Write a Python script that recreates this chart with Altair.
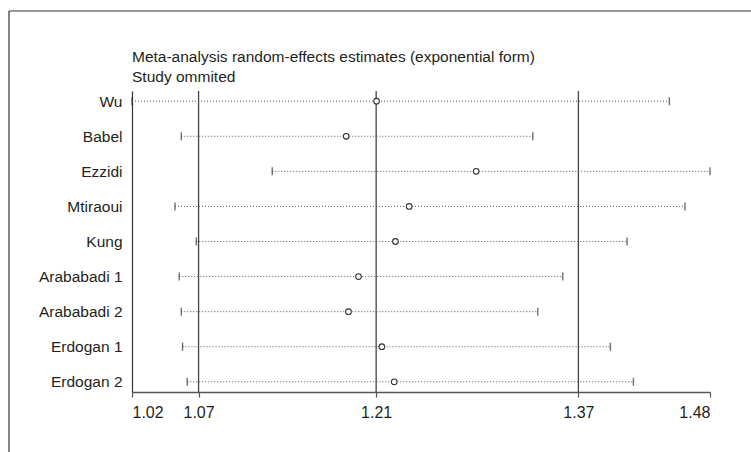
import altair as alt
import pandas as pd

studies = ["Wu", "Babel", "Ezzidi", "Mtiraoui", "Kung", "Arababadi 1",
           "Arababadi 2", "Erdogan 1", "Erdogan 2"]
estimate = [1.2145, 1.1906, 1.2929, 1.2402, 1.2294, 1.2003, 1.1924, 1.2187, 1.2284]
lower = [1.0220, 1.0608, 1.1324, 1.0558, 1.0726, 1.0592, 1.0608, 1.0618, 1.0655]
upper = [1.4450, 1.3375, 1.4770, 1.4573, 1.4117, 1.3611, 1.3414, 1.3986, 1.4167]
ref_lines = [1.0744, 1.2142, 1.3734]
axis_ticks = [1.0220, 1.0744, 1.2142, 1.3734, 1.4770]
x_domain = [1.0220, 1.4770]
title_lines = ["Meta-analysis random-effects estimates (exponential form)", "Study ommited"]

FONT = "Liberation Sans Narrow, Liberation Sans, Arial, sans-serif"
TXT = "#231f20"

df = pd.DataFrame({"study": studies, "est": estimate, "lo": lower, "hi": upper})
ends = pd.DataFrame({"study": studies * 2, "v": lower + upper})
refs = pd.DataFrame({"v": ref_lines})
one = pd.DataFrame({"k": [0]})

xscale = alt.Scale(domain=x_domain, nice=False, zero=False)
yscale = alt.Scale(type="point", padding=0.29)
ysort = studies

base = alt.Chart(df)

ci = base.mark_rule(strokeDash=[1, 2], strokeWidth=1, color="#555555").encode(
    x=alt.X("lo:Q", scale=xscale,
            axis=alt.Axis(values=axis_ticks, format=".2f", title=None, grid=False,
                          tickSize=5, labelPadding=7, domainColor="#555555",
                          tickColor="#555555", domainWidth=1.3, tickWidth=1.2,
                          labelFontSize=16, labelColor=TXT, labelFont=FONT)),
    x2="hi:Q",
    y=alt.Y("study:N", sort=ysort, scale=yscale,
            axis=alt.Axis(title=None, ticks=False, labelPadding=10, domainColor="#333333",
                          domainWidth=1.2, labelFontSize=15.5, labelColor=TXT,
                          labelFont=FONT, grid=False)),
)

endticks = alt.Chart(ends).mark_tick(orient="vertical", size=8, thickness=1.4,
                                     color="#333333").encode(
    x=alt.X("v:Q", scale=xscale),
    y=alt.Y("study:N", sort=ysort, scale=yscale),
)

refrules = alt.Chart(refs).mark_rule(color="#444444", strokeWidth=1.3).encode(
    x=alt.X("v:Q", scale=xscale),
)

points = base.mark_point(shape="circle", size=32, filled=False, strokeWidth=1.1,
                         color="#333333", fill="white", fillOpacity=1).encode(
    x=alt.X("est:Q", scale=xscale),
    y=alt.Y("study:N", sort=ysort, scale=yscale),
)

frame_left = alt.Chart(one).mark_rule(color="#333333", strokeWidth=1.2).encode(
    x=alt.value(-123), y=alt.value(-80), y2=alt.value(400))
frame_top = alt.Chart(one).mark_rule(color="#333333", strokeWidth=1.2).encode(
    x=alt.value(-123), x2=alt.value(700), y=alt.value(-80))

title1 = alt.Chart(one).mark_text(align="left", baseline="alphabetic", font=FONT,
                                  fontSize=15.5, fontWeight="normal", color=TXT).encode(
    x=alt.value(0), y=alt.value(-29.5), text=alt.value(title_lines[0]))
title2 = alt.Chart(one).mark_text(align="left", baseline="alphabetic", font=FONT,
                                  fontSize=15.5, fontWeight="normal", color=TXT).encode(
    x=alt.value(0), y=alt.value(-9.5), text=alt.value(title_lines[1]))

chart = alt.layer(frame_left, frame_top, title1, title2, refrules, ci, endticks,
                  points).properties(
    width=578, height=301,
    background="white",
    view=alt.ViewBackground(stroke="transparent", strokeWidth=0),
    autosize=alt.AutoSizeParams(type="none"),
    padding={"left": 132, "top": 91, "right": 41, "bottom": 60},
).configure_view(stroke="transparent", strokeWidth=0)

chart.save("out.html", embed_options={"renderer": "svg", "actions": False})
